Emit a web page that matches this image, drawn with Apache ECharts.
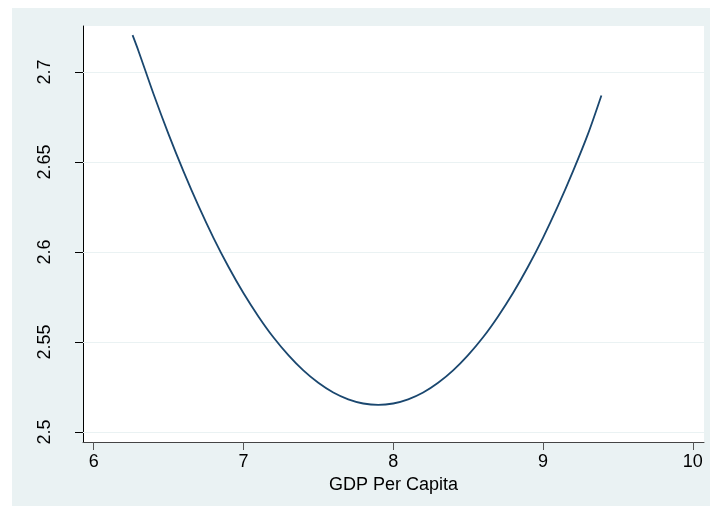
<!DOCTYPE html>
<html>
<head>
<meta charset="utf-8">
<script src="https://cdn.jsdelivr.net/npm/echarts@6/dist/echarts.min.js"></script>
<style>
html,body{margin:0;padding:0;background:#fff;}
#c{width:710px;height:506px;}
</style>
</head>
<body>
<div id="c"></div>
<script>
// Data
var gdpPerCapita = [6.26, 6.30, 6.40, 6.50, 6.60, 6.70, 6.80, 6.90, 7.00, 7.10, 7.20, 7.30, 7.40, 7.50, 7.60, 7.70, 7.80, 7.90,
                    8.00, 8.10, 8.20, 8.30, 8.40, 8.50, 8.60, 8.70, 8.80, 8.90, 9.00, 9.10, 9.20, 9.30, 9.39];
var fittedValue  = [2.7205, 2.7116, 2.6878, 2.6655, 2.6448, 2.6256, 2.6079, 2.5918, 2.5772, 2.5642, 2.5526, 2.5427, 2.5342, 2.5273, 2.5219, 2.5181, 2.5158, 2.5150,
                    2.5158, 2.5181, 2.5219, 2.5273, 2.5342, 2.5427, 2.5526, 2.5642, 2.5772, 2.5918, 2.6079, 2.6256, 2.6448, 2.6655, 2.6870];
var xTicks = [6, 7, 8, 9, 10];
var yTicks = [2.5, 2.55, 2.6, 2.65, 2.7];
var xTitle = 'GDP Per Capita';

var chart = echarts.init(document.getElementById('c'));
var pts = gdpPerCapita.map(function (x, i) { return [x, fittedValue[i]]; });
var font = '"Liberation Sans", Arial, sans-serif';

chart.setOption({
  animation: false,
  backgroundColor: '#ffffff',
  graphic: [{
    type: 'rect', z: -10, silent: true,
    shape: { x: 12, y: 8, width: 698, height: 498 },
    style: { fill: '#EAF2F3' }
  }],
  grid: {
    left: 83, top: 26, right: 6, bottom: 64,
    show: true, backgroundColor: '#ffffff', borderWidth: 0
  },
  xAxis: {
    type: 'value',
    min: 5.929, max: 10.075,
    interval: 1,
    name: xTitle,
    nameLocation: 'middle',
    nameGap: 31,
    nameTextStyle: { fontFamily: font, fontSize: 18, color: '#000' },
    axisLine: { show: true, onZero: false, lineStyle: { color: '#444', width: 1 } },
    axisTick: { show: true, length: 8, lineStyle: { color: '#555', width: 1 },
      customValues: xTicks },
    axisLabel: { fontFamily: font, fontSize: 18, color: '#000', margin: 11,
      customValues: xTicks, formatter: function (v) { return String(v); } },
    splitLine: { show: false }
  },
  yAxis: {
    type: 'value',
    min: 2.4944, max: 2.7256,
    axisLine: { show: true, onZero: false, lineStyle: { color: '#000', width: 1 } },
    axisTick: { show: true, length: 8, lineStyle: { color: '#000', width: 1 },
      customValues: yTicks },
    axisLabel: { fontFamily: font, fontSize: 18, color: '#000', margin: 29, rotate: 90,
      customValues: yTicks, formatter: function (v) { return String(+v.toFixed(2)); } },
    splitLine: { show: false }
  },
  series: [{
    type: 'line',
    data: pts,
    smooth: 0.3,
    showSymbol: false,
    lineStyle: { color: '#1A476F', width: 1.8 },
    markLine: {
      silent: true, symbol: 'none', animation: false,
      label: { show: false },
      lineStyle: { color: '#EAF2F3', width: 1.2, type: 'solid' },
      data: yTicks.map(function (v) { return { yAxis: v }; }),
      z: 1
    },
    z: 3
  }]
});
</script>
</body>
</html>
